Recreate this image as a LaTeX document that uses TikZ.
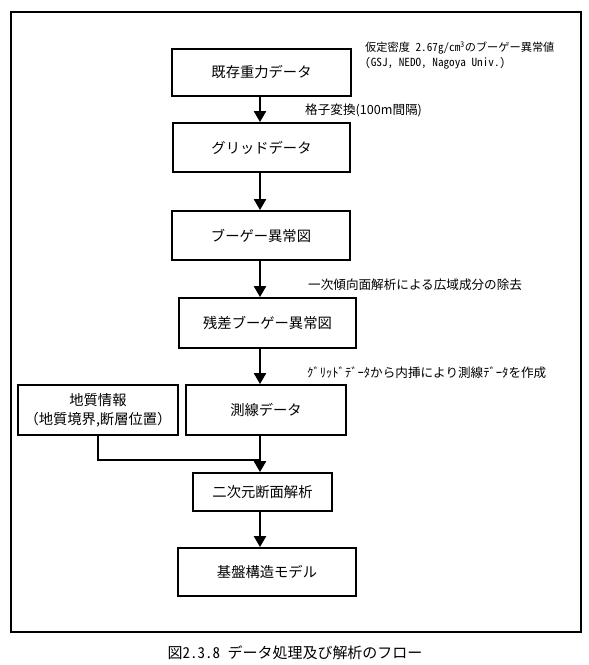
\documentclass[tikz,border=0pt]{standalone}
\usepackage{fontspec}
\setmainfont{Noto Sans CJK JP}
\newfontfamily\hw[RawFeature=+hwid]{Noto Sans CJK JP}
\usetikzlibrary{arrows.meta}
\begin{document}
\begin{tikzpicture}[x=1pt,y=-1pt,
  box/.style={draw, line width=1.8pt, font=\fontsize{14.3}{19}\selectfont, align=center, inner sep=0pt},
  conn/.style={line width=2.2pt},
  arr/.style={conn, -{Triangle[length=11pt,width=12pt]}},
  note/.style={anchor=west, inner sep=0pt, font=\fontsize{12.6}{15}\selectfont}]
\useasboundingbox (0,0) rectangle (589,665);
\draw[line width=1.8pt] (11,12) rectangle (581,632);
\coordinate (ax) at (260,0);
\node[box, minimum width=179pt, minimum height=47pt] (b1) at (261.5,72.5) {既存重力データ};
\node[box, minimum width=177pt, minimum height=49pt] (b2) at (261.5,147.5) {グリッドデータ};
\node[box, minimum width=178pt, minimum height=49pt] (b3) at (261,235.5) {ブーゲー異常図};
\node[box, minimum width=177pt, minimum height=50pt] (b4) at (267.5,323) {残差ブーゲー異常図};
\node[box, minimum width=160pt, minimum height=50pt] (b5) at (266,410) {測線データ};
\node[box, minimum width=160pt, minimum height=50pt] (b6) at (98,410) {地質情報\\（地質境界,断層位置）};
\node[box, minimum width=139pt, minimum height=38pt] (b7) at (262.5,492) {二次元断面解析};
\node[box, minimum width=178pt, minimum height=48pt] (b8) at (267,572) {基盤構造モデル};
\draw[arr] (b1.south -| ax) -- (b2.north -| ax);
\draw[arr] (b2.south -| ax) -- (b3.north -| ax);
\draw[arr] (b3.south -| ax) -- (b4.north -| ax);
\draw[arr] (b4.south -| ax) -- (b5.north -| ax);
\coordinate (j) at (260,460);
\draw[conn] (b6.south) |- (j);
\draw[arr] (b5.south -| ax) -- (b7.north -| ax);
\draw[arr] (b7.south -| ax) -- (b8.north -| ax);
\node[note, font=\hw\fontsize{11.2}{14}\selectfont] (n1) at (365,48) {仮定密度 2.67g/cm\textsuperscript{3}のブーゲー異常値};
\node[note, font=\hw\fontsize{11.2}{14}\selectfont] (n1b) at (365,63) {(GSJ, NEDO, Nagoya Univ.)};
\node[note, font=\fontsize{12.6}{15}\selectfont] (n2) at (305,110) {格子変換(100m間隔)};
\node[note] (n3) at (308,285) {一次傾向面解析による広域成分の除去};
\node[note] (n4) at (307,373) {ｸﾞﾘｯﾄﾞﾃﾞｰﾀから内挿により測線ﾃﾞｰﾀを作成};
\node[font=\hw\fontsize{15}{18}\selectfont, inner sep=0pt] (cap) at (295,653) {図2.3.8　データ処理及び解析のフロー};
\end{tikzpicture}
\end{document}
